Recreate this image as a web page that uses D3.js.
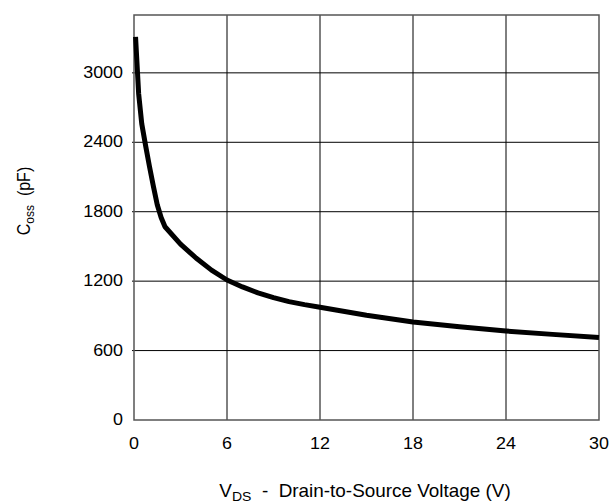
<!DOCTYPE html>
<html>
<head>
<meta charset="utf-8">
<script src="https://cdn.jsdelivr.net/npm/d3@7"></script>
<style>
  body { margin: 0; background: #fff; }
  text { font-family: "Liberation Sans", Arial, sans-serif; fill: #000; }
</style>
</head>
<body>
<div id="chart"></div>
<script>
// C_oss vs V_DS
const vds = [0.1, 0.3, 0.5, 0.75, 1.0, 1.25, 1.5, 1.75, 2.0, 3, 4, 5, 6, 7, 8, 9, 10, 11, 12, 15, 18, 21, 24, 27, 30];
const coss = [3310, 2820, 2560, 2370, 2190, 2020, 1860, 1750, 1670, 1520, 1400, 1295, 1210, 1150, 1098, 1057, 1023, 997, 975, 905, 847, 805, 769, 740, 712];
const xTicks = [0, 6, 12, 18, 24, 30];
const yTicks = [0, 600, 1200, 1800, 2400, 3000];

const margin = { top: 15, right: 11, bottom: 83, left: 134 },
  width = 610,
  height = 503,
  w = width - margin.left - margin.right,
  h = height - margin.top - margin.bottom,
  stretch = 1.12; // text in the picture is a bit wide

const svg = d3.select('#chart')
  .append('svg')
  .attr('width', width)
  .attr('height', height);

const g = svg.append('g')
  .attr('transform', `translate(${margin.left},${margin.top})`);

const x = d3.scaleLinear().domain([0, 30]).range([0, w]);
const y = d3.scaleLinear().domain([0, 3500]).range([h, 0]);

// grid
g.append('g')
  .selectAll('line')
  .data(xTicks.slice(1, -1))
  .enter().append('line')
  .attr('x1', d => x(d)).attr('x2', d => x(d))
  .attr('y1', 0).attr('y2', h)
  .attr('stroke', '#000').attr('stroke-width', 1);

g.append('g')
  .selectAll('line')
  .data(yTicks.slice(1))
  .enter().append('line')
  .attr('x1', -2).attr('x2', w)
  .attr('y1', d => y(d)).attr('y2', d => y(d))
  .attr('stroke', '#000').attr('stroke-width', 1);

g.append('rect')
  .attr('width', w).attr('height', h)
  .attr('fill', 'none')
  .attr('stroke', '#555').attr('stroke-width', 1.5);

// tick labels
g.append('g')
  .selectAll('text')
  .data(yTicks)
  .enter().append('text')
  .attr('transform', d => `translate(-11,${y(d)}) scale(${stretch},1)`)
  .attr('dy', '0.32em')
  .attr('text-anchor', 'end')
  .style('font-size', '16px')
  .text(d => d);

g.append('g')
  .selectAll('text')
  .data(xTicks)
  .enter().append('text')
  .attr('transform', d => `translate(${x(d)},${h + 29}) scale(${stretch},1)`)
  .attr('text-anchor', 'middle')
  .style('font-size', '16px')
  .text(d => d);

// curve
const line = d3.line()
  .x((d, i) => x(vds[i]))
  .y(d => y(d));

g.append('path')
  .datum(coss)
  .attr('fill', 'none')
  .attr('stroke', '#000')
  .attr('stroke-width', 5)
  .attr('stroke-linejoin', 'round')
  .attr('d', line);

// axis titles
const xt = svg.append('text')
  .attr('transform', 'translate(365,497) scale(1.08,1)')
  .attr('text-anchor', 'middle')
  .attr('xml:space', 'preserve')
  .style('font-size', '17.5px');
xt.append('tspan').text('V');
xt.append('tspan').attr('dy', 4).style('font-size', '13px').text('DS');
xt.append('tspan').attr('dy', -4).text('  -  Drain-to-Source Voltage (V)');

const yt = svg.append('text')
  .attr('transform', `translate(30,201) rotate(-90) scale(1,${stretch})`)
  .attr('text-anchor', 'middle')
  .attr('xml:space', 'preserve')
  .style('font-size', '16px');
yt.append('tspan').text('C');
yt.append('tspan').attr('dy', 4).style('font-size', '12px').text('oss');
yt.append('tspan').attr('dy', -4).text('  (pF)');
</script>
</body>
</html>
